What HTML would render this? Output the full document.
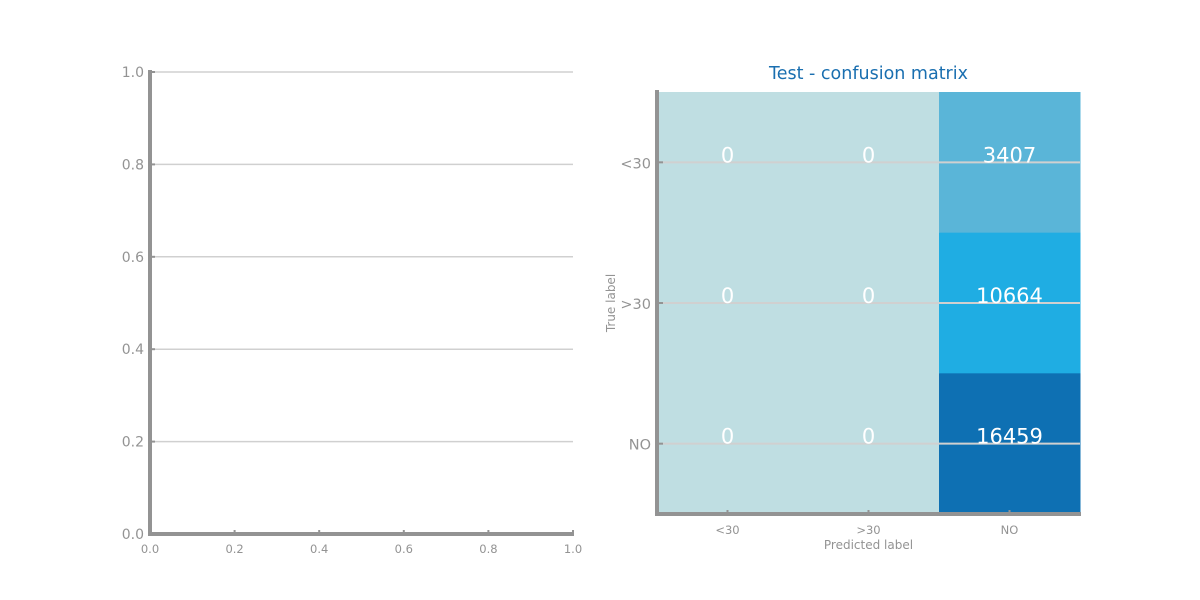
<!DOCTYPE html>
<html><head><meta charset="utf-8"><style>
body{margin:0;background:#fff;}
svg{display:block;font-family:"DejaVu Sans","Liberation Sans",sans-serif;}
</style></head><body>
<svg id="c" width="1200" height="600"></svg>
<script>
const xTicks=[0.0,0.2,0.4,0.6,0.8,1.0];
const yTicks=[0.0,0.2,0.4,0.6,0.8,1.0];
const classes=["<30",">30","NO"];
const matrix=[[0,0,3407],[0,0,10664],[0,0,16459]];
const cellColors=[["#bfdee2","#bfdee2","#5ab5d8"],["#bfdee2","#bfdee2","#1fade3"],["#bfdee2","#bfdee2","#0e70b3"]];
const NS="http://www.w3.org/2000/svg";
const svg=document.getElementById('c');
function mk(t,a,p){const e=document.createElementNS(NS,t);for(const k in a)e.setAttribute(k,a[k]);(p||svg).appendChild(e);return e;}
const grey="#939393";
const L={x0:150,x1:573,y0:534,y1:72};
const lx=v=>L.x0+(L.x1-L.x0)*v, ly=v=>L.y0-(L.y0-L.y1)*v;
const g1=mk('g',{});


yTicks.forEach(v=>{
  if(v>0){const gl=mk('line',{x1:L.x0,x2:L.x1,y1:ly(v),y2:ly(v),stroke:'#d0d0d0','stroke-width':1.5},g1);
  }
  mk('line',{x1:L.x0,x2:L.x0+5,y1:ly(v),y2:ly(v),stroke:grey,'stroke-width':2},g1);
  const t=mk('text',{x:L.x0-6,y:ly(v)+5,'text-anchor':'end','font-size':14,fill:grey},g1);
  t.textContent=v.toFixed(1);
  
});
xTicks.forEach(v=>{
  mk('line',{x1:lx(v),x2:lx(v),y1:L.y0,y2:L.y0-4,stroke:grey,'stroke-width':2},g1);
  const t=mk('text',{x:lx(v),y:L.y0+19,'text-anchor':'middle','font-size':11.5,fill:grey},g1);
  t.textContent=v.toFixed(1);
  
});
let a=mk('line',{x1:L.x0,x2:L.x0,y1:L.y1-2,y2:L.y0+2,stroke:grey,'stroke-width':4},g1);

a=mk('line',{x1:L.x0-2,x2:L.x1+1,y1:L.y0,y2:L.y0,stroke:grey,'stroke-width':4},g1);

const R={x0:657,x1:1080,y0:92,y1:514};
const n=classes.length, cw=(R.x1-R.x0)/n, ch=(R.y1-R.y0)/n;
const g2=mk('g',{});


matrix.forEach((row,i)=>row.forEach((v,j)=>{
  const r=mk('rect',{x:R.x0+j*cw,y:R.y0+i*ch,width:cw+0.5,height:ch+0.5,fill:cellColors[i][j]},g2);
  
}));
classes.forEach((c,i)=>{
  const yc=R.y0+(i+0.5)*ch;
  const gl=mk('line',{x1:R.x0,x2:R.x1,y1:yc,y2:yc,stroke:'#d0d0d0','stroke-width':2},g2);
  
  mk('line',{x1:R.x0,x2:R.x0+6,y1:yc,y2:yc,stroke:grey,'stroke-width':2},g2);
  const t=mk('text',{x:R.x0-6,y:yc+6,'text-anchor':'end','font-size':14.5,fill:grey},g2);
  t.textContent=c;
  const xc=R.x0+(i+0.5)*cw;
  mk('line',{x1:xc,x2:xc,y1:R.y1,y2:R.y1-4,stroke:grey,'stroke-width':2},g2);
  const t2=mk('text',{x:xc,y:R.y1+20,'text-anchor':'middle','font-size':11.5,fill:grey},g2);
  t2.textContent=c;
});
matrix.forEach((row,i)=>row.forEach((v,j)=>{
  const t=mk('text',{x:R.x0+(j+0.5)*cw,y:R.y0+(i+0.5)*ch,'text-anchor':'middle','font-size':21,fill:'#fff'},g2);
  t.textContent=v;
}));
a=mk('line',{x1:R.x0,x2:R.x0,y1:R.y0-2,y2:R.y1+2,stroke:grey,'stroke-width':4},g2);

a=mk('line',{x1:R.x0-2,x2:R.x1+1,y1:R.y1,y2:R.y1,stroke:grey,'stroke-width':4},g2);

let t=mk('text',{x:(R.x0+R.x1)/2,y:79,'text-anchor':'middle','font-size':17.5,fill:'#1a6fb0'});
t.textContent='Test - confusion matrix';
t=mk('text',{x:(R.x0+R.x1)/2,y:549,'text-anchor':'middle','font-size':12,fill:grey});
t.textContent='Predicted label';
t=mk('text',{x:615,y:303,'text-anchor':'middle','font-size':12,fill:grey,transform:'rotate(-90 615 303)'});
t.textContent='True label';
</script>
</body></html>
